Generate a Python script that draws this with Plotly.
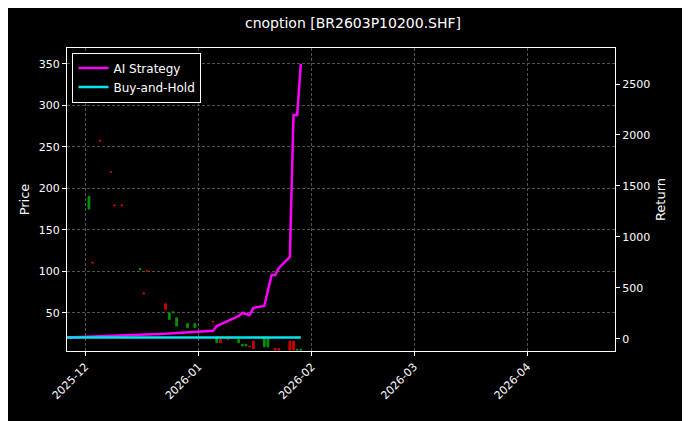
import plotly.graph_objects as go

candle_dates = ["2025-12-02", "2025-12-03", "2025-12-05", "2025-12-08", "2025-12-09", "2025-12-11",
                "2025-12-16", "2025-12-17", "2025-12-18", "2025-12-23", "2025-12-24", "2025-12-25",
                "2025-12-26", "2025-12-29", "2025-12-31", "2026-01-05", "2026-01-06", "2026-01-07",
                "2026-01-09", "2026-01-12", "2026-01-13", "2026-01-14", "2026-01-15", "2026-01-16",
                "2026-01-19", "2026-01-20", "2026-01-22", "2026-01-23", "2026-01-26", "2026-01-27",
                "2026-01-28", "2026-01-29"]
opens = [175, 111, 258, 220, 180, 180, 102, 74, 101, 61, 42, 50, 34, 32, 32, 40, 14, 18,
         19, 14, 10, 10, 10, 16, 9, 9, 7, 7, 16, 16, 5, 5]
closes = [190, 110, 257, 219, 179, 179, 103, 73, 100, 54, 50, 51, 44, 37, 37, 39, 21, 14,
          18, 18, 12, 12, 9, 7, 19, 19, 5, 5, 5, 5, 6, 6]

line_dates = ["2025-11-26", "2025-12-23", "2026-01-05", "2026-01-06", "2026-01-12", "2026-01-13",
              "2026-01-15", "2026-01-16", "2026-01-19", "2026-01-21", "2026-01-22", "2026-01-23",
              "2026-01-26", "2026-01-27", "2026-01-28", "2026-01-29"]
strategy = [15, 50, 80, 127, 225, 255, 235, 304, 323, 627, 627, 696, 804, 2196, 2196, 2696]
buy_hold = [15] * len(line_dates)

highs = [max(o, c) for o, c in zip(opens, closes)]
lows = [min(o, c) for o, c in zip(opens, closes)]

fig = go.Figure()
fig.add_trace(go.Candlestick(
    x=candle_dates, open=opens, high=highs, low=lows, close=closes,
    increasing=dict(line=dict(color="#00a000", width=1), fillcolor="#00a000"),
    decreasing=dict(line=dict(color="#e00000", width=1), fillcolor="#e00000"),
    showlegend=False, whiskerwidth=0, opacity=0.9,
))
fig.add_trace(go.Scatter(x=line_dates, y=strategy, name="AI Strategy", yaxis="y2",
                         mode="lines", line=dict(color="#ff00ff", width=2.5)))
fig.add_trace(go.Scatter(x=line_dates, y=buy_hold, name="Buy-and-Hold", yaxis="y2",
                         mode="lines", line=dict(color="#00e5ee", width=2.5)))

grid = dict(gridcolor="#555", griddash="3px,2px", gridwidth=0.5, zeroline=False,
            linecolor="white", showline=True, mirror=True, ticks="outside",
            tickcolor="white", ticklen=4, automargin=False)
fig.update_layout(
    width=690, height=421,
    paper_bgcolor="black", plot_bgcolor="black",
    font=dict(family="DejaVu Sans", color="white", size=11),
    title=dict(text="cnoption [BR2603P10200.SHF]", x=0.5, xanchor="center", y=0.976,
               font=dict(size=14)),
    margin=dict(l=59, r=83, t=40, b=78, autoexpand=False),
    xaxis=dict(**grid, type="date", range=["2025-11-26", "2026-04-25"],
               tickvals=["2025-12-01", "2026-01-01", "2026-02-01", "2026-03-01", "2026-04-01"],
               ticktext=["2025-12", "2026-01", "2026-02", "2026-03", "2026-04"],
               tickangle=-45, rangeslider=dict(visible=False)),
    yaxis=dict(**grid, title=dict(text="Price", standoff=6), range=[4, 369],
               tickvals=[50, 100, 150, 200, 250, 300, 350]),
    yaxis2=dict(**grid, title=dict(text="Return", standoff=6), overlaying="y", side="right",
                range=[-118, 2853], tickvals=[0, 500, 1000, 1500, 2000, 2500], showgrid=False),
    legend=dict(x=0.01, y=0.985, bgcolor="black", bordercolor="white", borderwidth=1,
                font=dict(size=12)),
)
fig.write_html("out.html")
